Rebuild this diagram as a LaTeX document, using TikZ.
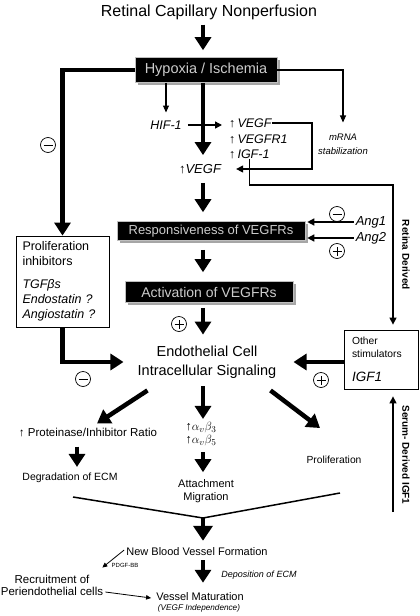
\documentclass[tikz,border=0pt]{standalone}
\usepackage{fontspec}
\setmainfont{Liberation Sans}
\usetikzlibrary{arrows.meta,shadows}
\newcommand{\myfs}[1]{\fontsize{#1}{#1}\selectfont}
\begin{document}
\begin{tikzpicture}[x=1pt,y=-1pt,
  lbl/.style={inner sep=0pt},
  bigarr/.style={line width=4.5pt,-{Triangle[length=13pt,width=16pt]}},
  thinarr/.style={line width=1.1pt,-{Triangle[length=7pt,width=6pt]}},
  midarr/.style={line width=1.4pt,-{Triangle[length=7pt,width=7pt]}},
  smallarr/.style={line width=0.8pt,-{Triangle[length=5pt,width=4.5pt]}},
  blackbox/.style={fill=black,draw=gray!50,line width=0.6pt,text=white!80!black,inner sep=0pt,
    drop shadow={shadow xshift=2.5pt,shadow yshift=-2.5pt,fill=gray!70,opacity=1}},
  wbox/.style={draw,line width=0.8pt,inner sep=0pt},
  sgn/.style={circle,draw,line width=0.7pt,minimum size=15pt,inner sep=0pt},
  negsign/.style={sgn,path picture={\draw[line width=0.8pt]([xshift=-4.5pt]path picture bounding box.center)--([xshift=4.5pt]path picture bounding box.center);}},
  possign/.style={sgn,path picture={\draw[line width=0.8pt]([xshift=-4.5pt]path picture bounding box.center)--([xshift=4.5pt]path picture bounding box.center)([yshift=-4.5pt]path picture bounding box.center)--([yshift=4.5pt]path picture bounding box.center);}}
]
\useasboundingbox (0,0) rectangle (420,616);
\coordinate (mx) at (203,0);
\coordinate (px) at (77,0);
\coordinate (rx) at (312,0);
\coordinate (ry) at (393,185);
\coordinate (sb) at (393,512);
\coordinate (cl) at (73,497);
\coordinate (cm) at (203,518);
\coordinate (cr) at (340,493);

% ---------- nodes ----------
\node[lbl,font=\myfs{16}] (title) at (209,12) {Retinal Capillary Nonperfusion};
\node[blackbox,minimum width=142pt,minimum height=25pt,font=\myfs{14.5}] (hyp) at (206,70) {Hypoxia / Ischemia};
\node[lbl,font=\myfs{12.5}\itshape] (hif) at (166,125) {HIF-1};
\node[lbl,font=\myfs{12.5}\itshape,anchor=west] (v1) at (229,123) {{\upshape ↑}\,VEGF};
\node[lbl,font=\myfs{12.5}\itshape,anchor=west] (v2) at (229,139) {{\upshape ↑}\,VEGFR1};
\node[lbl,font=\myfs{12.5}\itshape,anchor=west] (v3) at (229,154) {{\upshape ↑}\,IGF-1};
\node[lbl,font=\myfs{13}\itshape] (vegf) at (200,169) {{\upshape ↑}VEGF};
\node[lbl,font=\fontsize{9.5}{14}\selectfont\itshape,align=center] (mrna) at (343,144) {mRNA\\stabilization};

\node[wbox,minimum width=93pt,minimum height=91pt,inner xsep=6.5pt,text width=80pt,align=left,
  font=\fontsize{12.5}{15}\selectfont] (prolif) at (62.5,281.5)
  {Proliferation\\inhibitors\\[8pt]\textit{TGFβs}\\\textit{Endostatin ?}\\\textit{Angiostatin ?}};

\node[blackbox,minimum width=188pt,minimum height=19pt,font=\myfs{13}] (resp) at (211,231) {Responsiveness of VEGFRs};
\node[blackbox,minimum width=168pt,minimum height=21pt,font=\myfs{14}] (act) at (209,292) {Activation of VEGFRs};
\node[lbl,font=\myfs{13}\itshape] (ang1) at (371,222) {Ang1};
\node[lbl,font=\myfs{13}\itshape] (ang2) at (371,238) {Ang2};

\node[lbl,font=\fontsize{14.5}{19}\selectfont,align=center] (endo) at (207,362) {Endothelial Cell\\Intracellular Signaling};
\node[wbox,minimum width=74pt,minimum height=59pt,inner xsep=8pt,text width=58pt,align=left,
  font=\fontsize{10.3}{13}\selectfont] (other) at (381,359.5)
  {Other\\stimulators\\[11pt]{\myfs{13.5}\itshape IGF1}};

\node[lbl,font=\bfseries\myfs{10},rotate=-90] (ret) at (406,255) {Retina Derived};
\node[lbl,font=\bfseries\myfs{10},rotate=-90] (ser) at (406,455) {Serum- Derived IGF1};

\node[negsign] (s1) at (48,145) {};
\node[negsign] (s2) at (337,214) {};
\node[possign] (s3) at (337,251) {};
\node[possign] (s4) at (179,324) {};
\node[negsign] (s5) at (83,379) {};
\node[possign] (s6) at (321,380) {};

\node[lbl,font=\myfs{11.5}] (prot) at (88,432) {↑ Proteinase/Inhibitor Ratio};
\node[lbl,font=\fontsize{12.5}{13}\selectfont,align=center] (alpha) at (201,434) {↑$\alpha_v\beta_3$\\↑$\alpha_v\beta_5$};
\node[lbl,font=\myfs{10.5}] (degr) at (70,478) {Degradation of ECM};
\node[lbl,font=\fontsize{11}{13}\selectfont,align=center] (att) at (206,491) {Attachment\\Migration};
\node[lbl,font=\myfs{10.3}] (prf) at (334,460) {Proliferation};
\node[lbl,font=\myfs{11}] (newb) at (197,552) {New Blood Vessel Formation};
\node[lbl,font=\myfs{6}] (pdgf) at (125,565) {PDGF-BB};
\node[lbl,font=\fontsize{11.5}{12}\selectfont,align=center] (rec) at (52,585) {Recruitment of\\Periendothelial cells};
\node[lbl,font=\myfs{9}\itshape] (dep) at (259,575) {Deposition of ECM};
\node[lbl,font=\myfs{11}] (vm) at (200,597) {Vessel Maturation};
\node[lbl,font=\myfs{8.2}\itshape] (vi) at (199,608) {(VEGF Independence)};

% ---------- connectors ----------
\draw[bigarr,shorten <=5pt,shorten >=7pt] (title.south -| mx) -- (hyp.north -| mx);
\draw[bigarr] (hyp.west) -| (prolif.north);
\draw[thinarr,shorten >=8pt] (hyp.south -| hif.north) -- (hif.north);
\draw[midarr,shorten <=6pt,shorten >=7pt] (hif.east) -- (hif.east -| v1.west);
\draw[bigarr,shorten >=9pt] (hyp.south -| mx) -- (vegf.north -| mx);
\draw[midarr,shorten >=15pt] (v1.east) -| (rx |- vegf.east) -- (vegf.east);
\draw[thinarr,shorten >=11pt] (hyp.east) -| (mrna.north);
\draw[midarr,shorten >=5pt] (v3.south) |- (ry) -- (ry |- other.north);
\draw[bigarr,shorten <=9pt,shorten >=9pt] (vegf.south -| mx) -- (resp.north -| mx);
\draw[midarr,shorten <=2pt,shorten >=2pt] (ang1.west) -- (ang1.west -| resp.east);
\draw[midarr,shorten <=2pt,shorten >=2pt] (ang2.west) -- (ang2.west -| resp.east);
\draw[bigarr,shorten <=9pt,shorten >=9pt] (resp.south -| mx) -- (act.north -| mx);
\draw[bigarr,shorten <=5pt,shorten >=11pt] (act.south -| mx) -- (endo.north -| mx);
\draw[bigarr,shorten >=14pt] (prolif.south) |- (endo.west);
\draw[bigarr,shorten >=17pt] (endo.east -| other.west) -- (endo.east);
\draw[midarr,shorten >=7pt] (sb) -- (sb |- other.south);
\draw[bigarr] ([shift={(10,12)}]endo.south west) -- ([shift={(9,-4)}]prot.north);
\draw[bigarr,shorten <=8pt,shorten >=3pt] (endo.south -| mx) -- (alpha.north -| mx);
\draw[bigarr] ([shift={(-6,12)}]endo.south east) -- ([shift={(-14,-28)}]prf.north);
\draw[bigarr,shorten <=10pt,shorten >=6pt] (prot.south -| px) -- (degr.north -| px);
\draw[bigarr,shorten <=6pt,shorten >=7pt] (alpha.south -| mx) -- (att.north -| mx);
\draw[line width=1.5pt] (cl) -- (cm) -- (cr);
\draw[line width=4.5pt,-{Triangle[length=15pt,width=19pt]},shorten >=7pt] (cm) -- (newb.north -| mx);
\draw[smallarr] ([shift={(-2,-2)}]newb.west) -- ([shift={(-1,-7)}]rec.north east);
\draw[bigarr,shorten <=4pt,shorten >=10pt] (newb.south -| mx) -- (vm.north -| mx);
\draw[smallarr] ([shift={(2,7)}]rec.east) -- ([shift={(-5,1)}]vm.west);
\end{tikzpicture}
\end{document}
